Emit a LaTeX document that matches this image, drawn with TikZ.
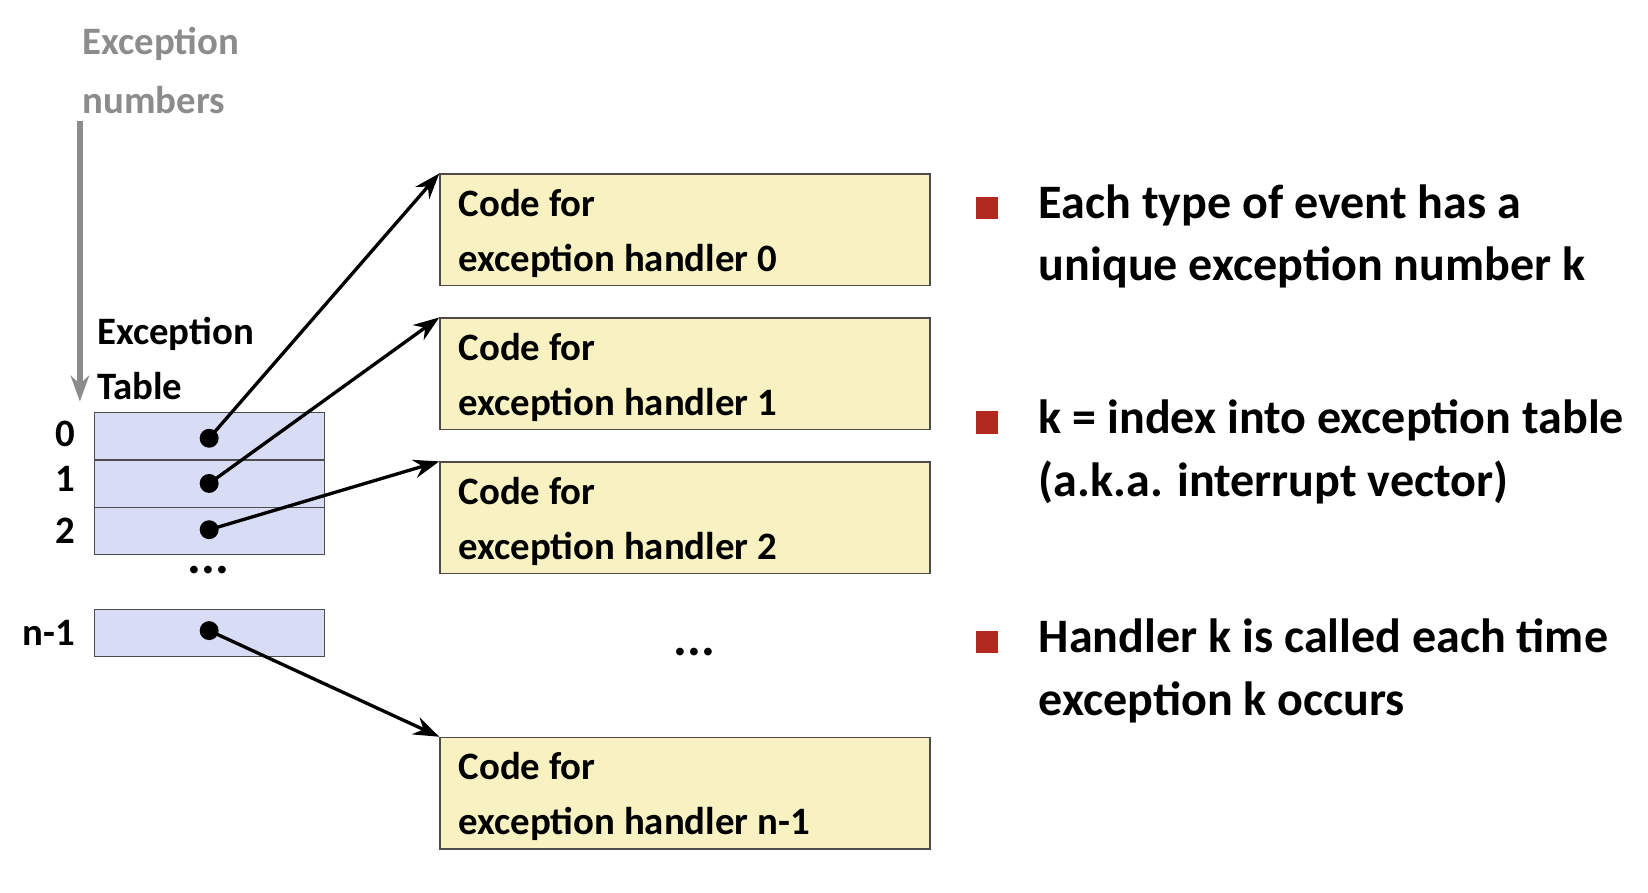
\documentclass[tikz,border=0pt]{standalone}
\usepackage{fontspec}
\setmainfont{Carlito}
\usetikzlibrary{arrows.meta}
\definecolor{slot}{HTML}{D8DCF4}
\definecolor{code}{HTML}{F8F1C1}
\definecolor{bul}{HTML}{B22A1E}
\begin{document}
\begin{tikzpicture}[x=0.01cm,y=-0.01cm,>={Stealth[length=7pt,width=5pt]},
  slot/.style={draw=black!70,fill=slot,minimum width=2.19cm,minimum height=0.45cm,inner sep=0pt,anchor=north west},
  code/.style={draw=black!70,fill=code,minimum width=4.66cm,minimum height=1.06cm,anchor=north west,inner sep=0pt},
  codetxt/.style={anchor=west,font=\fontsize{10.5}{12}\selectfont\bfseries,align=left},
  num/.style={anchor=east,font=\fontsize{10.5}{12}\selectfont\bfseries},
  bullet/.style={fill=bul,minimum size=0.21cm,inner sep=0pt},
  point/.style={anchor=west,font=\fontsize{13}{17}\selectfont\bfseries,align=left},
  dot/.style={circle,fill=black,minimum size=0.18cm,inner sep=0pt}]
\useasboundingbox (0,0) rectangle (1568,849);
% exception numbers
\node[anchor=west,text=black!45,font=\fontsize{10.5}{12}\selectfont\bfseries,align=left] (numlbl) at (66,67) {Exception\\[4pt]numbers};
\coordinate (ntop) at (76,115);
\coordinate (nbot) at (76,382);
\draw[->,black!45,line width=1.5pt] (ntop) -- (nbot);
\node[anchor=west,font=\fontsize{10.5}{12}\selectfont\bfseries,align=left] (tbllbl) at (80,341) {Exception\\[3pt]Table};
% table
\node[slot] (s0) at (89,392) {};
\node[slot] (s1) at (89,437) {};
\node[slot] (s2) at (89,482) {};
\node[slot] (sn) at (89,579) {};
\node[num] at (84,413) {0};
\node[num] at (84,456) {1};
\node[num] at (84,505) {2};
\node[num] at (84,602) {n-1};
\node[font=\fontsize{14}{14}\selectfont\bfseries] at (198,542) {...};
\node[dot] (d0) at (199,417) {};
\node[dot] (d1) at (199,460) {};
\node[dot] (d2) at (199,504) {};
\node[dot] (dn) at (199,600) {};
% handlers
\foreach \y/\k/\n in {165/0/h0,302/1/h1,439/2/h2,701/n-1/hn}{
  \node[code] (\n) at (418,\y) {};
  \node[codetxt] at (424,\y+57) {Code for\\[3pt]exception handler \k};
}
\node[font=\fontsize{14}{14}\selectfont\bfseries] at (661,620) {...};
\draw[->,line width=0.9pt] (d0.center) -- (h0.north west);
\draw[->,line width=0.9pt] (d1.center) -- (h1.north west);
\draw[->,line width=0.9pt] (d2.center) -- (h2.north west);
\draw[->,line width=0.9pt] (dn.center) -- (hn.north west);
% points
\node[bullet] (b1) at (939,198) {};
\node[bullet] (b2) at (939,402) {};
\node[bullet] (b3) at (939,611) {};
\node[point] at (976,225) {Each type of event has a\\unique exception number k};
\node[point] at (976,430) {k = index into exception table\\(a.k.a. interrupt vector)};
\node[point] at (976,638) {Handler k is called each time\\exception k occurs};
\end{tikzpicture}
\end{document}
